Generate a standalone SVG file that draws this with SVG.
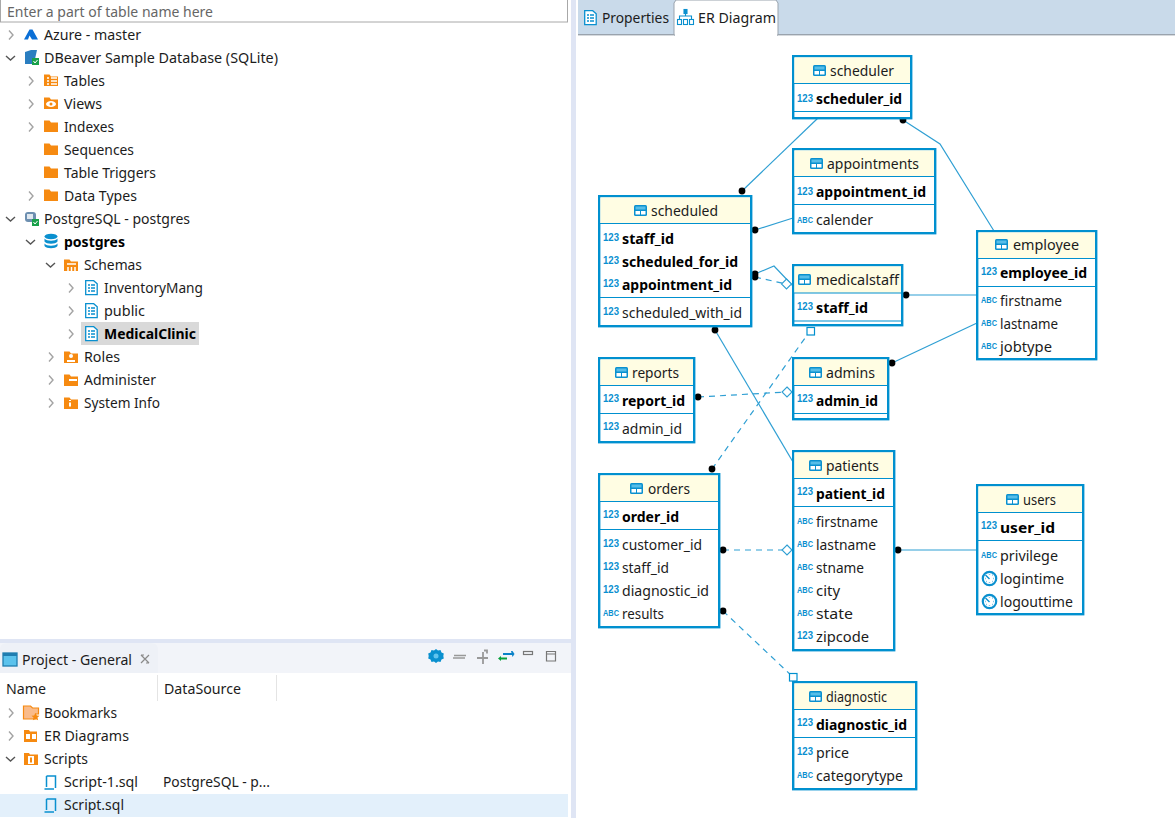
<svg xmlns="http://www.w3.org/2000/svg" xmlns:xlink="http://www.w3.org/1999/xlink" width="1175" height="818" viewBox="0 0 1175 818">
<style>
text{font-family:"Noto Sans","Open Sans","Liberation Sans",sans-serif;font-size:14px;fill:#1c1c1c}
.b{font-weight:700;fill:#000}
.t{font-size:10px;font-weight:700;fill:#0a8fd0;font-family:"Liberation Sans",sans-serif}
.a{font-size:8.500px;font-weight:700;fill:#0a8fd0;font-family:"Liberation Sans",sans-serif}
.box{fill:#fff;stroke:#0090cf;stroke-width:2.4}
.head{fill:#fffde3}
.sep{stroke:#0090cf;stroke-width:1.2;fill:none}
.con{fill:none;stroke:#2f9fd3;stroke-width:1.2}
.dash{stroke-dasharray:6 5}
.dot{fill:#000}
.open{fill:#fff;stroke:#2f9fd3;stroke-width:1.1}
.sq{fill:#fff;stroke:#0090cf;stroke-width:1.2}
.chev{fill:none;stroke:#a3a3a3;stroke-width:1.4}
.chevd{fill:none;stroke:#555;stroke-width:1.4}
.fold{fill:#f68a11}
</style>
<defs>
<g id="tbl"><rect x="0" y="0" width="13" height="11" rx="1.500" fill="#0a90cf"/><rect x="1.500" y="1.500" width="10" height="3" fill="#57bde8"/><rect x="1.500" y="6" width="4.500" height="3.500" fill="#fff"/><rect x="7" y="6" width="4.500" height="3.500" fill="#fff"/></g>
<g id="right"><path class="chev" d="M0 0l4 4.500l-4 4.500"/></g>
<g id="down"><path class="chevd" d="M0 0l4.500 4l4.500-4"/></g>
<g id="folder"><path class="fold" d="M0 1.500h5.500l1.500 2h7v9.500h-14z"/></g>
<g id="schema"><path d="M0.700 0.700h8l3.500 3v11h-11.500z" fill="#fff" stroke="#0a90cf" stroke-width="1.300"/><path d="M3 5h2M6 5h4M3 8h2M6 8h4M3 11h2M6 11h4" stroke="#0a90cf" stroke-width="1.300"/></g>
<g id="sql"><path d="M2.500 1h9v12M2.500 1v11M0.500 14h9.500" fill="none" stroke="#0a90cf" stroke-width="1.500"/></g>
<g id="clock"><circle cx="7.500" cy="7.500" r="6.700" fill="#fff" stroke="#0a90cf" stroke-width="2.200"/><path d="M3.500 4l4 4M7.500 3v.5M11 7.500h.5M7.500 11v.5M4 10.500h.5M10.500 10.500h.5M3 7.500h.5M10.500 4h.5" stroke="#0a90cf" stroke-width="1.400"/></g>
</defs>

<g id="background">
<rect width="1175" height="818" fill="#fff"/>
<rect x="571" y="0" width="5" height="818" fill="#dfe5f4"/>
<rect x="0" y="639" width="576" height="4" fill="#dfe5f4"/>
<rect x="0" y="643" width="571" height="30" fill="#f2f4f9"/>
<rect x="0" y="794" width="568" height="23" fill="#e3f0fb"/>
<rect x="578" y="0" width="597" height="35" fill="#c9daea"/>
<rect x="578" y="34" width="597" height="1.400" fill="#9aa3ad"/>
</g>

<g id="tabs">
<path d="M674 35V3l2-3h100l2 3v32z" fill="#fff" stroke="#9aa3ad" stroke-width="1"/>
<rect x="675" y="33" width="102" height="3" fill="#fff"/>
<use xlink:href="#schema" href="#schema" x="584" y="10"/>
<text x="602" y="23" textLength="67" lengthAdjust="spacingAndGlyphs">Properties</text>
<g fill="none" stroke="#0a90cf" stroke-width="1.100"><rect x="677.500" y="19.500" width="4" height="5"/><rect x="683.500" y="19.500" width="4" height="5"/><rect x="689.500" y="19.500" width="4" height="5"/><path d="M679.500 19v-3h12v3M685.500 16v-3"/><rect x="684" y="9.500" width="3" height="4" fill="#0a90cf"/></g>
<text x="698" y="23" textLength="78" lengthAdjust="spacingAndGlyphs">ER Diagram</text>
</g>

<g id="search">
<rect x="0.500" y="-2" width="567" height="24" fill="#fff" stroke="#a8a8a8"/>
<text x="7" y="17" textLength="206" lengthAdjust="spacingAndGlyphs" style="fill:#666">Enter a part of table name here</text>
</g>

<g id="tree">
<use href="#right" x="9" y="30.500"/>
<path d="M24 39.500l5.500-10h3l5.500 10h-6l-2.500-4-1.500 4z" fill="#0a6fd6"/>
<text x="44" y="40" textLength="97" lengthAdjust="spacingAndGlyphs">Azure - master</text>
<use href="#down" x="6" y="56"/>
<path d="M25 52l6-2 6 0-2 9-3 5h-7z" fill="#2a7ec0"/><rect x="32" y="58" width="7" height="7" fill="#19a04a"/><path d="M33.500 61l1.500 2l2.500-3" stroke="#fff" fill="none"/>
<text x="44" y="63" textLength="234" lengthAdjust="spacingAndGlyphs">DBeaver Sample Database (SQLite)</text>

<use href="#right" x="29" y="76.500"/>
<use href="#folder" x="44" y="73"/><path d="M47 78h2M51 78h6M47 81h2M51 81h6M47 84h2M51 84h6" stroke="#fff" stroke-width="1.500"/>
<text x="64" y="86" textLength="41" lengthAdjust="spacingAndGlyphs">Tables</text>
<use href="#right" x="29" y="99.500"/>
<use href="#folder" x="44" y="96"/><ellipse cx="51" cy="104" rx="5" ry="3" fill="#fff"/><circle cx="51" cy="104" r="1.500" fill="#f68a11"/>
<text x="64" y="109" textLength="38" lengthAdjust="spacingAndGlyphs">Views</text>
<use href="#right" x="29" y="122.500"/>
<use href="#folder" x="44" y="119"/>
<text x="64" y="132" textLength="50" lengthAdjust="spacingAndGlyphs">Indexes</text>
<use href="#folder" x="44" y="142"/>
<text x="64" y="155" textLength="70" lengthAdjust="spacingAndGlyphs">Sequences</text>
<use href="#folder" x="44" y="165"/>
<text x="64" y="178" textLength="92" lengthAdjust="spacingAndGlyphs">Table Triggers</text>
<use href="#right" x="29" y="191.500"/>
<use href="#folder" x="44" y="188"/>
<text x="64" y="201" textLength="73" lengthAdjust="spacingAndGlyphs">Data Types</text>

<use href="#down" x="6" y="217"/>
<rect x="25" y="212" width="11" height="10" rx="3" fill="#6d8fb0"/><rect x="27" y="214" width="6" height="5" fill="#dfe8f0"/><rect x="32" y="219" width="7" height="7" fill="#19a04a"/><path d="M33.500 222l1.500 2l2.500-3" stroke="#fff" fill="none"/>
<text x="44" y="224" textLength="146" lengthAdjust="spacingAndGlyphs">PostgreSQL - postgres</text>
<use href="#down" x="26" y="240"/>
<g fill="#0a90cf"><ellipse cx="51" cy="236.500" rx="6.500" ry="2.800"/><path d="M44.500 238.500c2 3 11 3 13 0v3c-2 3-11 3-13 0zM44.500 243.500c2 3 11 3 13 0v2.500c-2 3-11 3-13 0z"/></g>
<text x="64" y="247" class="b" textLength="61" lengthAdjust="spacingAndGlyphs">postgres</text>
<use href="#down" x="46" y="263"/>
<use href="#folder" x="64" y="258"/><path d="M67 264h9M68 267v4M71.500 267v4M75 267v4" stroke="#fff" stroke-width="1.500" fill="none"/>
<text x="84" y="270" textLength="58" lengthAdjust="spacingAndGlyphs">Schemas</text>
<use href="#right" x="69" y="283.500"/>
<use href="#schema" x="85" y="280"/>
<text x="104" y="293" textLength="99" lengthAdjust="spacingAndGlyphs">InventoryMang</text>
<use href="#right" x="69" y="306.500"/>
<use href="#schema" x="85" y="303"/>
<text x="104" y="316" textLength="41" lengthAdjust="spacingAndGlyphs">public</text>
<rect x="81" y="322" width="118" height="23" fill="#d9d9d9"/>
<use href="#right" x="69" y="329.500"/>
<use href="#schema" x="85" y="326"/>
<text x="104" y="339" class="b" textLength="92" lengthAdjust="spacingAndGlyphs">MedicalClinic</text>
<use href="#right" x="49" y="352.500"/>
<use href="#folder" x="64" y="350"/><circle cx="71" cy="356" r="2" fill="#fff"/><path d="M67 361h8" stroke="#fff" stroke-width="2"/>
<text x="84" y="362" textLength="36" lengthAdjust="spacingAndGlyphs">Roles</text>
<use href="#right" x="49" y="375.500"/>
<use href="#folder" x="64" y="373"/><path d="M69 380h8" stroke="#fff" stroke-width="2"/>
<text x="84" y="385" textLength="72" lengthAdjust="spacingAndGlyphs">Administer</text>
<use href="#right" x="49" y="398.500"/>
<use href="#folder" x="64" y="396"/><path d="M70 400v1M70 402.500v4" stroke="#fff" stroke-width="2"/>
<text x="84" y="408" textLength="76" lengthAdjust="spacingAndGlyphs">System Info</text>
</g>

<g id="project-panel">
<path d="M0 673V650q0-7 7-7h144q7 0 7 7v23z" fill="#eef1f7"/>
<rect x="3" y="653" width="14" height="13" fill="#5bc2ec" stroke="#1f7db0" stroke-width="1.300"/><rect x="3" y="653" width="14" height="3" fill="#1f7db0"/>
<text x="22" y="665" textLength="110" lengthAdjust="spacingAndGlyphs">Project - General</text>
<path d="M141 655l8 8M149 655l-8 8M141 655h3M146 663h3" fill="none" stroke="#8a8a8a" stroke-width="1.200"/>
<path d="M436 649l2 1.500 2.500-.5 1 2.500 2.300 1-.5 2.500.5 2.500-2.300 1-1 2.500-2.500-.5-2 1.500-2-1.500-2.500.5-1-2.500-2.300-1 .5-2.500-.5-2.500 2.300-1 1-2.500 2.500.5z" fill="#0a90cf"/><circle cx="436" cy="656" r="2.500" fill="#62c4ee"/>
<path d="M454 655.500h12M453 658h12" stroke="#999" stroke-width="1.500"/>
<path d="M483 652v12M477 658h11M484 650.500h3v3" stroke="#999" stroke-width="1.800" fill="none"/>
<path d="M503 654h9" stroke="#0a82c8" stroke-width="2"/><path d="M511 651l1.500 0 2 3-2 3z" fill="#0a82c8"/>
<path d="M500 658.500h7" stroke="#0aa03c" stroke-width="2"/><path d="M501 656v5l-3-2.500z" fill="#0aa03c"/>
<rect x="523.500" y="651.500" width="9" height="3" fill="none" stroke="#777" stroke-width="1.200"/>
<path d="M546.500 651.500h9v9.500h-9zM546.500 654h9" fill="none" stroke="#777" stroke-width="1.200"/>
<path d="M157.500 675v26M276.500 675v26" stroke="#e4e4e4"/>
<text x="6" y="694" textLength="40" lengthAdjust="spacingAndGlyphs">Name</text>
<text x="164" y="694" textLength="77" lengthAdjust="spacingAndGlyphs">DataSource</text>
<use href="#right" x="9" y="708.500"/>
<path d="M23.500 706h7l2 2h6v6l-3 0v5h-12z" fill="#f9bb8a" stroke="#f68a11" stroke-width="1.200"/><path d="M35.500 713l1.300 2.500 2.700.3-2 1.800.6 2.700-2.600-1.400-2.600 1.400.6-2.700-2-1.800 2.700-.3z" fill="#f68a11"/>
<text x="44" y="718" textLength="73" lengthAdjust="spacingAndGlyphs">Bookmarks</text>
<use href="#right" x="9" y="731.500"/>
<path d="M24 730h5l1 1.500h7v10.500h-13z" fill="#f68a11"/><rect x="26" y="734" width="4" height="5" fill="#fff"/><rect x="32" y="734" width="4" height="5" fill="#fff"/>
<text x="44" y="741" textLength="85" lengthAdjust="spacingAndGlyphs">ER Diagrams</text>
<use href="#down" x="6" y="757"/>
<path d="M24 753h5l1 1.500h8v10.500h-14z" fill="#f68a11"/><rect x="28" y="756" width="6" height="8" fill="#fff"/><rect x="30" y="757.500" width="2" height="5" fill="#f68a11"/>
<text x="44" y="764" textLength="44" lengthAdjust="spacingAndGlyphs">Scripts</text>
<use href="#sql" x="44" y="775"/>
<text x="64" y="787" textLength="74" lengthAdjust="spacingAndGlyphs">Script-1.sql</text>
<text x="163" y="787" textLength="107" lengthAdjust="spacingAndGlyphs">PostgreSQL - p...</text>
<use href="#sql" x="44" y="798"/>
<text x="64" y="810" textLength="60" lengthAdjust="spacingAndGlyphs">Script.sql</text>
</g>

<g id="connectors">
<path class="con" d="M818 118L742 191"/>
<path class="con" d="M903 120L940 144L994 231"/>
<path class="con" d="M793 218L755 230"/>
<path class="con" d="M755 274L774 266L793 286"/>
<path class="con dash" d="M755 277L786 284"/>
<path class="con" d="M906 295H977"/>
<path class="con" d="M892 363L977 323"/>
<path class="con" d="M715 330L793 462"/>
<path class="con dash" d="M698 397L786 392"/>
<path class="con dash" d="M712 469L810 331"/>
<path class="con dash" d="M723 550H786"/>
<path class="con" d="M898 550H977"/>
<path class="con dash" d="M723 611L793 677"/>
<g>
<circle class="dot" cx="742" cy="191" r="3.400"/><circle class="dot" cx="903" cy="120" r="3.400"/><circle class="dot" cx="755" cy="230" r="3.400"/>
<circle class="dot" cx="755" cy="274" r="3.400"/><circle class="dot" cx="755" cy="277" r="3.400"/><circle class="dot" cx="906" cy="295" r="3.400"/>
<circle class="dot" cx="892" cy="363" r="3.400"/><circle class="dot" cx="715" cy="330" r="3.400"/><circle class="dot" cx="698" cy="397" r="3.400"/>
<circle class="dot" cx="712" cy="469" r="3.400"/><circle class="dot" cx="723" cy="550" r="3.400"/><circle class="dot" cx="898" cy="550" r="3.400"/><circle class="dot" cx="723" cy="611" r="3.400"/>
<path class="open" d="M786.500 279l5 5-5 5-5-5z"/><path class="open" d="M787 387l5 5-5 5-5-5z"/><path class="open" d="M787 545l5 5-5 5-5-5z"/>
<rect class="sq" x="807" y="327.500" width="7.500" height="7.500"/><rect class="sq" x="789.500" y="673.500" width="7.500" height="7.500"/>
</g>
</g>

<g id="scheduler"><rect class="box" x="793.200" y="56.200" width="118" height="62"/><rect class="head" x="794.400" y="57.400" width="115.600" height="25.600"/><path class="sep" d="M793 83.500H911M793 111.500H911"/><use href="#tbl" x="813" y="65"/><text x="830" y="76" textLength="64" lengthAdjust="spacingAndGlyphs">scheduler</text><text class="t" x="797" y="102" textLength="16" lengthAdjust="spacingAndGlyphs">123</text><text class="b" x="816" y="104" textLength="86" lengthAdjust="spacingAndGlyphs">scheduler_id</text></g>

<g id="appointments"><rect class="box" x="793.200" y="149.200" width="142" height="84"/><rect class="head" x="794.400" y="150.400" width="139.600" height="26"/><path class="sep" d="M793 176.500H935M793 204.500H935"/><use href="#tbl" x="810" y="158"/><text x="827" y="169" textLength="92" lengthAdjust="spacingAndGlyphs">appointments</text><text class="t" x="797" y="195" textLength="16" lengthAdjust="spacingAndGlyphs">123</text><text class="b" x="816" y="197" textLength="110" lengthAdjust="spacingAndGlyphs">appointment_id</text><text class="a" x="797" y="223" textLength="16" lengthAdjust="spacingAndGlyphs">ABC</text><text x="816" y="225" textLength="57" lengthAdjust="spacingAndGlyphs">calender</text></g>

<g id="scheduled"><rect class="box" x="599.200" y="196.200" width="152" height="130"/><rect class="head" x="600.400" y="197.400" width="149.600" height="26"/><path class="sep" d="M599 223.500H751M599 297.500H751"/><use href="#tbl" x="634" y="205"/><text x="651" y="216" textLength="67" lengthAdjust="spacingAndGlyphs">scheduled</text>
<text class="t" x="603" y="241" textLength="16" lengthAdjust="spacingAndGlyphs">123</text><text class="b" x="622" y="244" textLength="52" lengthAdjust="spacingAndGlyphs">staff_id</text>
<text class="t" x="603" y="264" textLength="16" lengthAdjust="spacingAndGlyphs">123</text><text class="b" x="622" y="267" textLength="116" lengthAdjust="spacingAndGlyphs">scheduled_for_id</text>
<text class="t" x="603" y="287" textLength="16" lengthAdjust="spacingAndGlyphs">123</text><text class="b" x="622" y="290" textLength="110" lengthAdjust="spacingAndGlyphs">appointment_id</text>
<text class="t" x="603" y="315" textLength="16" lengthAdjust="spacingAndGlyphs">123</text><text x="622" y="318" textLength="120" lengthAdjust="spacingAndGlyphs">scheduled_with_id</text></g>

<g id="medicalstaff"><rect class="box" x="793.200" y="265.200" width="109" height="60"/><rect class="head" x="794.400" y="266.400" width="106.600" height="26.600"/><path class="sep" d="M793 293H902M793 321H902"/><use href="#tbl" x="798" y="274"/><text x="816" y="285" textLength="83" lengthAdjust="spacingAndGlyphs">medicalstaff</text><text class="t" x="797" y="310" textLength="16" lengthAdjust="spacingAndGlyphs">123</text><text class="b" x="816" y="313" textLength="52" lengthAdjust="spacingAndGlyphs">staff_id</text></g>

<g id="employee"><rect class="box" x="977.200" y="231.200" width="119" height="128"/><rect class="head" x="978.400" y="232.400" width="116.600" height="26"/><path class="sep" d="M977 258.500H1096M977 286.500H1096"/><use href="#tbl" x="995" y="239"/><text x="1013" y="250" textLength="66" lengthAdjust="spacingAndGlyphs">employee</text><text class="t" x="981" y="275" textLength="16" lengthAdjust="spacingAndGlyphs">123</text><text class="b" x="1000" y="278" textLength="87" lengthAdjust="spacingAndGlyphs">employee_id</text>
<text class="a" x="981" y="303" textLength="16" lengthAdjust="spacingAndGlyphs">ABC</text><text x="1000" y="306" textLength="62" lengthAdjust="spacingAndGlyphs">firstname</text>
<text class="a" x="981" y="326" textLength="16" lengthAdjust="spacingAndGlyphs">ABC</text><text x="1000" y="329" textLength="58" lengthAdjust="spacingAndGlyphs">lastname</text>
<text class="a" x="981" y="349" textLength="16" lengthAdjust="spacingAndGlyphs">ABC</text><text x="1000" y="352" textLength="52" lengthAdjust="spacingAndGlyphs">jobtype</text></g>

<g id="reports"><rect class="box" x="599.200" y="358.200" width="95" height="84"/><rect class="head" x="600.400" y="359.400" width="92.600" height="25.600"/><path class="sep" d="M599 385.500H694M599 413.500H694"/><use href="#tbl" x="615" y="367"/><text x="632" y="378" textLength="47" lengthAdjust="spacingAndGlyphs">reports</text><text class="t" x="603" y="402" textLength="16" lengthAdjust="spacingAndGlyphs">123</text><text class="b" x="622" y="406" textLength="63" lengthAdjust="spacingAndGlyphs">report_id</text><text class="t" x="603" y="430" textLength="16" lengthAdjust="spacingAndGlyphs">123</text><text x="622" y="434" textLength="60" lengthAdjust="spacingAndGlyphs">admin_id</text></g>

<g id="admins"><rect class="box" x="793.200" y="358.200" width="95" height="61"/><rect class="head" x="794.400" y="359.400" width="92.600" height="25.600"/><path class="sep" d="M793 385.500H888M793 413.500H888"/><use href="#tbl" x="809" y="367"/><text x="826" y="378" textLength="49" lengthAdjust="spacingAndGlyphs">admins</text><text class="t" x="797" y="402" textLength="16" lengthAdjust="spacingAndGlyphs">123</text><text class="b" x="816" y="406" textLength="62" lengthAdjust="spacingAndGlyphs">admin_id</text></g>

<g id="patients"><rect class="box" x="793.200" y="451.200" width="101" height="199"/><rect class="head" x="794.400" y="452.400" width="98.600" height="26"/><path class="sep" d="M793 478.500H894M793 506.500H894"/><use href="#tbl" x="809" y="460"/><text x="826" y="471" textLength="53" lengthAdjust="spacingAndGlyphs">patients</text><text class="t" x="797" y="495" textLength="16" lengthAdjust="spacingAndGlyphs">123</text><text class="b" x="816" y="499" textLength="69" lengthAdjust="spacingAndGlyphs">patient_id</text>
<text class="a" x="797" y="524" textLength="16" lengthAdjust="spacingAndGlyphs">ABC</text><text x="816" y="527" textLength="62" lengthAdjust="spacingAndGlyphs">firstname</text>
<text class="a" x="797" y="547" textLength="16" lengthAdjust="spacingAndGlyphs">ABC</text><text x="816" y="550" textLength="60" lengthAdjust="spacingAndGlyphs">lastname</text>
<text class="a" x="797" y="570" textLength="16" lengthAdjust="spacingAndGlyphs">ABC</text><text x="816" y="573" textLength="48" lengthAdjust="spacingAndGlyphs">stname</text>
<text class="a" x="797" y="593" textLength="16" lengthAdjust="spacingAndGlyphs">ABC</text><text x="816" y="596" textLength="24" lengthAdjust="spacingAndGlyphs">city</text>
<text class="a" x="797" y="616" textLength="16" lengthAdjust="spacingAndGlyphs">ABC</text><text x="816" y="619" textLength="37" lengthAdjust="spacingAndGlyphs">state</text>
<text class="t" x="797" y="639" textLength="16" lengthAdjust="spacingAndGlyphs">123</text><text x="816" y="642" textLength="53" lengthAdjust="spacingAndGlyphs">zipcode</text></g>

<g id="orders"><rect class="box" x="599.200" y="474.200" width="120" height="153"/><rect class="head" x="600.400" y="475.400" width="117.600" height="26"/><path class="sep" d="M599 501.500H719M599 529.500H719"/><use href="#tbl" x="630" y="483"/><text x="648" y="494" textLength="42" lengthAdjust="spacingAndGlyphs">orders</text><text class="t" x="603" y="518" textLength="16" lengthAdjust="spacingAndGlyphs">123</text><text class="b" x="622" y="522" textLength="57" lengthAdjust="spacingAndGlyphs">order_id</text>
<text class="t" x="603" y="547" textLength="16" lengthAdjust="spacingAndGlyphs">123</text><text x="622" y="550" textLength="80" lengthAdjust="spacingAndGlyphs">customer_id</text>
<text class="t" x="603" y="570" textLength="16" lengthAdjust="spacingAndGlyphs">123</text><text x="622" y="573" textLength="47" lengthAdjust="spacingAndGlyphs">staff_id</text>
<text class="t" x="603" y="593" textLength="16" lengthAdjust="spacingAndGlyphs">123</text><text x="622" y="596" textLength="87" lengthAdjust="spacingAndGlyphs">diagnostic_id</text>
<text class="a" x="603" y="616" textLength="16" lengthAdjust="spacingAndGlyphs">ABC</text><text x="622" y="619" textLength="42" lengthAdjust="spacingAndGlyphs">results</text></g>

<g id="users"><rect class="box" x="977.200" y="485.200" width="106" height="129"/><rect class="head" x="978.400" y="486.400" width="103.600" height="26"/><path class="sep" d="M977 512.500H1083M977 540.500H1083"/><use href="#tbl" x="1006" y="494"/><text x="1023" y="505" textLength="33" lengthAdjust="spacingAndGlyphs">users</text><text class="t" x="981" y="529" textLength="16" lengthAdjust="spacingAndGlyphs">123</text><text class="b" x="1000" y="533" textLength="55" lengthAdjust="spacingAndGlyphs">user_id</text>
<text class="a" x="981" y="558" textLength="16" lengthAdjust="spacingAndGlyphs">ABC</text><text x="1000" y="561" textLength="58" lengthAdjust="spacingAndGlyphs">privilege</text>
<use href="#clock" x="982" y="571"/><text x="1000" y="584" textLength="64" lengthAdjust="spacingAndGlyphs">logintime</text>
<use href="#clock" x="982" y="594"/><text x="1000" y="607" textLength="73" lengthAdjust="spacingAndGlyphs">logouttime</text></g>

<g id="diagnostic"><rect class="box" x="793.200" y="682.200" width="123" height="107"/><rect class="head" x="794.400" y="683.400" width="120.600" height="26"/><path class="sep" d="M793 709.500H916M793 737.500H916"/><use href="#tbl" x="809" y="691"/><text x="826" y="702" textLength="61" lengthAdjust="spacingAndGlyphs">diagnostic</text><text class="t" x="797" y="726" textLength="16" lengthAdjust="spacingAndGlyphs">123</text><text class="b" x="816" y="730" textLength="91" lengthAdjust="spacingAndGlyphs">diagnostic_id</text>
<text class="t" x="797" y="755" textLength="16" lengthAdjust="spacingAndGlyphs">123</text><text x="816" y="758" textLength="33" lengthAdjust="spacingAndGlyphs">price</text>
<text class="a" x="797" y="778" textLength="16" lengthAdjust="spacingAndGlyphs">ABC</text><text x="816" y="781" textLength="87" lengthAdjust="spacingAndGlyphs">categorytype</text></g>
</svg>
